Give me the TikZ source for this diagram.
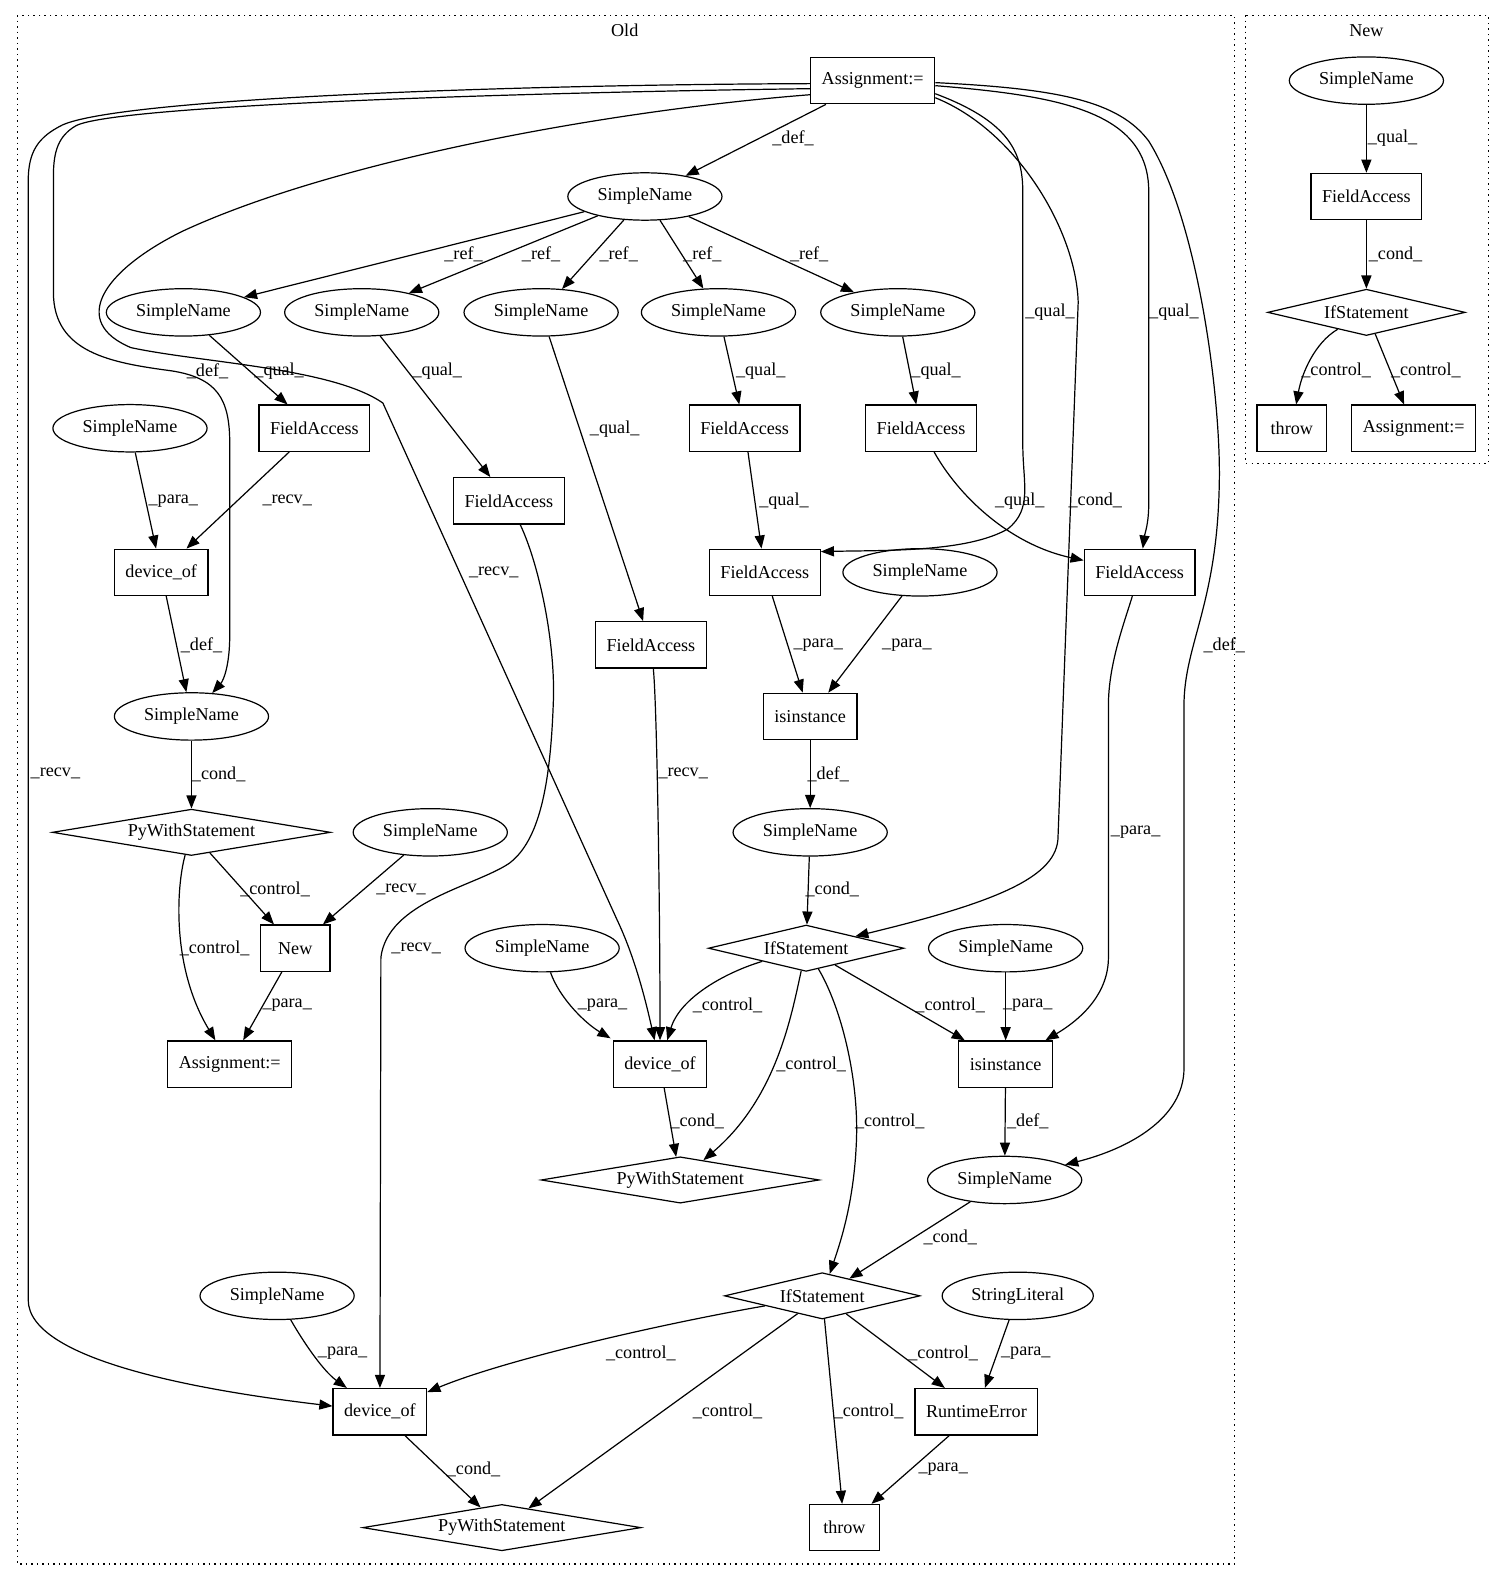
\documentclass[tikz,border=0pt]{standalone}
\usepackage{fontspec}
\setmainfont{Liberation Serif}
\usetikzlibrary{shapes.geometric,arrows.meta}
\begin{document}
\begin{tikzpicture}[x=1pt,y=-1pt,
  every node/.style={font=\fontsize{18}{21}\selectfont},
  box/.style={draw, rectangle, line width=1.2pt, minimum height=46pt, minimum width=69pt, inner xsep=11pt},
  ell/.style={draw, ellipse, line width=1.2pt, minimum width=153pt, minimum height=47pt, inner sep=0pt},
  dia/.style={draw, diamond, line width=1.2pt, aspect=6, inner sep=0pt, minimum height=46pt},
  edge/.style={line width=1.2pt, -{Triangle[length=13pt,width=10pt]}},
  lbl/.style={inner sep=0pt},
  clus/.style={draw, line width=1.2pt, dash pattern=on 1.5pt off 4pt}]
\fill[white] (0,0) rectangle (1493,1568);
\useasboundingbox (0,0) rectangle (1493,1568);
% clusters
\draw[clus] (17,15) rectangle (1225,1552);
\draw[clus] (1236,15) rectangle (1477,460);
\node (Lold) at (620,30) {Old};
\node (Lnew) at (1356,30) {New};
% Old nodes
\node[box] (A0) at (866,80) {Assignment:=};
\node[ell] (SN0) at (640,195) {SimpleName};
\node[ell] (SN1) at (182,310) {SimpleName};
\node[ell] (SN2) at (359,310) {SimpleName};
\node[ell] (SN3) at (537,310) {SimpleName};
\node[ell] (SN4) at (713,310) {SimpleName};
\node[ell] (SN5) at (891,310) {SimpleName};
\node[ell] (SNp1) at (129,425) {SimpleName};
\node[box] (FA1) at (312,425) {FieldAccess};
\node[box] (FA4) at (739,425) {FieldAccess};
\node[box] (FA5) at (914,425) {FieldAccess};
\node[box] (FA2) at (505,497) {FieldAccess};
\node[box] (DO1) at (160,568) {device\_of};
\node[box] (FA4b) at (759,568) {FieldAccess};
\node[ell] (SNi) at (913,568) {SimpleName};
\node[box] (FA5b) at (1131,568) {FieldAccess};
\node[box] (FA3) at (646,640) {FieldAccess};
\node[ell] (SN6) at (190,711) {SimpleName};
\node[box] (ISI1) at (804,711) {isinstance};
\node[dia, minimum width=276pt] (PW1) at (190,826) {PyWithStatement};
\node[ell] (SNr) at (427,826) {SimpleName};
\node[ell] (SN7) at (804,826) {SimpleName};
\node[box] (NEW) at (293,941) {New};
\node[ell] (SNp2) at (538,941) {SimpleName};
\node[dia, minimum width=194pt] (IF1) at (800,941) {IfStatement};
\node[ell] (SNp3) at (998,941) {SimpleName};
\node[box] (AS2) at (228,1056) {Assignment:=};
\node[box] (DO2) at (655,1056) {device\_of};
\node[box] (ISI2) at (998,1056) {isinstance};
\node[dia, minimum width=276pt] (PW2) at (675,1171) {PyWithStatement};
\node[ell] (SN8) at (997,1171) {SimpleName};
\node[ell] (SNp4) at (275,1286) {SimpleName};
\node[dia, minimum width=194pt] (IF2) at (816,1286) {IfStatement};
\node[ell, minimum width=150pt] (SL) at (1010,1286) {StringLiteral};
\node[box] (DO3) at (377,1401) {device\_of};
\node[box] (RE) at (969,1401) {RuntimeError};
\node[dia, minimum width=276pt] (PW3) at (498,1516) {PyWithStatement};
\node[box] (TH) at (838,1516) {throw};
% New nodes
\node[ell] (nSN) at (1356,80) {SimpleName};
\node[box] (nFA) at (1356,195) {FieldAccess};
\node[dia, minimum width=196pt] (nIF) at (1356,310) {IfStatement};
\node[box] (nTH) at (1282,425) {throw};
\node[box] (nAS) at (1403,425) {Assignment:=};

% Old edges
\draw[edge] (A0) -- (SN0);
\draw[edge] (SN0) -- (SN1);
\draw[edge] (SN0) -- (SN2);
\draw[edge] (SN0) -- (SN3);
\draw[edge] (SN0) -- (SN4);
\draw[edge] (SN0) -- (SN5);
\draw[edge] (SN1) -- (FA1);
\draw[edge] (SN2) -- (FA2);
\draw[edge] (SN3) -- (FA3);
\draw[edge] (SN4) -- (FA4);
\draw[edge] (SN5) -- (FA5);
\draw[edge] (SNp1) -- (DO1);
\draw[edge] (FA1) -- (DO1);
\draw[edge] (DO1) -- (SN6);
\draw[edge] (SN6) -- (PW1);
\draw[edge] (PW1) -- (NEW);
\draw[edge] (PW1) .. controls (175,880) and (170,960) .. (AS2);
\draw[edge] (SNr) -- (NEW);
\draw[edge] (NEW) -- (AS2);
\draw[edge] (FA4) -- (FA4b);
\draw[edge] (FA5) .. controls (950,490) and (1000,540) .. (FA5b);
\draw[edge] (FA4b) -- (ISI1);
\draw[edge] (SNi) -- (ISI1);
\draw[edge] (ISI1) -- (SN7);
\draw[edge] (SN7) -- (IF1);
% A0 long curves (left)
\draw[edge] ([yshift=-3pt]A0.west) .. controls (500,84) and (120,98) .. (62,124) .. controls (38,136) and (28,150) .. (28,180) -- (28,1290) .. controls (28,1350) and (200,1380) .. (DO3);
\draw[edge] ([yshift=-8pt]A0.west) .. controls (500,92) and (110,105) .. (75,125) .. controls (58,135) and (53,150) .. (53,175) -- (53,290) .. controls (53,350) and (110,360) .. (170,368) .. controls (215,375) and (228,395) .. (228,440) -- (228,630) .. controls (228,660) and (222,675) .. (SN6);
\draw[edge] ([yshift=-14pt]A0.west) .. controls (600,110) and (330,160) .. (180,230) .. controls (100,270) and (70,320) .. (130,345) .. controls (200,360) and (330,365) .. (380,400) -- (612,912) .. controls (630,950) and (640,990) .. (DO2);
% A0 long curves (right)
\draw[edge] ([yshift=-13pt]A0.east) .. controls (1000,120) and (1015,150) .. (1015,190) -- (1015,440) .. controls (1015,480) and (1025,505) .. (1000,525) .. controls (960,548) and (880,546) .. ([yshift=-3pt]FA4b.north east);
\draw[edge] ([yshift=-17pt]A0.east) .. controls (1010,130) and (1068,230) .. (1070,300) -- (1050,830) .. controls (1050,870) and (990,895) .. (IF1);
\draw[edge] ([yshift=-5pt]A0.east) .. controls (1050,95) and (1140,110) .. (1140,190) -- (1140,500) .. controls (1140,520) and (1136,530) .. (FA5b);
\draw[edge] ([yshift=-2pt]A0.east) .. controls (1050,88) and (1110,100) .. (1140,140) .. controls (1190,220) and (1212,400) .. (1210,480) .. controls (1208,600) and (1175,640) .. (1175,700) -- (1175,1060) .. controls (1175,1110) and (1120,1140) .. (SN8);
% others
\draw[edge] (FA2) .. controls (535,560) and (552,640) .. (549,700) .. controls (546,780) and (535,835) .. (505,857) .. controls (470,880) and (385,895) .. (378,950) -- (DO3);
\draw[edge] (FA3) .. controls (652,700) and (655,900) .. (DO2);
\draw[edge] (IF1) .. controls (720,965) and (675,990) .. (DO2);
\draw[edge] (SNp2) .. controls (555,990) and (580,1015) .. ([xshift=-2pt,yshift=2pt]DO2.north west);
\draw[edge] (IF1) .. controls (785,1010) and (770,1090) .. (PW2);
\draw[edge] (IF1) -- (ISI2);
\draw[edge] (IF1) .. controls (835,1000) and (852,1070) .. (850,1130) .. controls (848,1190) and (835,1230) .. (IF2);
\draw[edge] (SNp3) -- (ISI2);
\draw[edge] (FA5b) .. controls (1115,620) and (1100,660) .. (1100,700) -- (1100,950) .. controls (1100,985) and (1075,1010) .. (ISI2);
\draw[edge] (DO2) -- (PW2);
\draw[edge] (ISI2) -- (SN8);
\draw[edge] (SN8) -- (IF2);
\draw[edge] (IF2) .. controls (650,1315) and (500,1350) .. (DO3);
\draw[edge] (IF2) -- (PW3);
\draw[edge] (IF2) -- (TH);
\draw[edge] (IF2) -- (RE);
\draw[edge] (SL) -- (RE);
\draw[edge] (RE) -- (TH);
\draw[edge] (SNp4) .. controls (300,1330) and (320,1360) .. (DO3);
\draw[edge] (DO3) -- (PW3);
% New edges
\draw[edge] (nSN) -- (nFA);
\draw[edge] (nFA) -- (nIF);
\draw[edge] (nIF) .. controls (1305,340) and (1292,370) .. (nTH);
\draw[edge] (nIF) -- (nAS);

% labels
\node[lbl] (e1) at (787,137) {\_def\_};
\node[lbl] (e2) at (460,252) {\_ref\_};
\node[lbl] (e3) at (537,252) {\_ref\_};
\node[lbl] (e4) at (614,252) {\_ref\_};
\node[lbl] (e5) at (697,252) {\_ref\_};
\node[lbl] (e6) at (803,252) {\_ref\_};
\node[lbl] (e7) at (206,368) {\_def\_};
\node[lbl] (e8) at (277,368) {\_qual\_};
\node[lbl] (e9) at (434,368) {\_qual\_};
\node[lbl] (e10) at (755,368) {\_qual\_};
\node[lbl] (e11) at (929,368) {\_qual\_};
\node[lbl] (e12) at (1042,310) {\_qual\_};
\node[lbl] (e13) at (1165,310) {\_qual\_};
\node[lbl] (e14) at (610,426) {\_qual\_};
\node[lbl] (e15) at (172,497) {\_para\_};
\node[lbl] (e16) at (285,497) {\_recv\_};
\node[lbl] (e17) at (490,568) {\_recv\_};
\node[lbl] (e18) at (778,497) {\_qual\_};
\node[lbl] (e19) at (1012,497) {\_qual\_};
\node[lbl] (e20) at (1087,497) {\_cond\_};
\node[lbl] (e21) at (200,640) {\_def\_};
\node[lbl] (e22) at (812,640) {\_para\_};
\node[lbl] (e23) at (900,640) {\_para\_};
\node[lbl] (e24) at (1215,640) {\_def\_};
\node[lbl] (e25) at (55,768) {\_recv\_};
\node[lbl] (e26) at (217,768) {\_cond\_};
\node[lbl] (e27) at (678,768) {\_recv\_};
\node[lbl] (e28) at (822,768) {\_def\_};
\node[lbl] (e29) at (1127,826) {\_para\_};
\node[lbl] (e30) at (273,883) {\_control\_};
\node[lbl] (e31) at (398,883) {\_recv\_};
\node[lbl] (e32) at (826,883) {\_cond\_};
\node[lbl] (e33) at (213,941) {\_control\_};
\node[lbl] (e34) at (413,941) {\_recv\_};
\node[lbl] (e35) at (285,998) {\_para\_};
\node[lbl] (e36) at (598,998) {\_para\_};
\node[lbl] (e37) at (722,998) {\_control\_};
\node[lbl] (e38) at (943,998) {\_control\_};
\node[lbl] (e39) at (1020,998) {\_para\_};
\node[lbl] (e40) at (805,1056) {\_control\_};
\node[lbl] (e41) at (692,1113) {\_cond\_};
\node[lbl] (e42) at (883,1113) {\_control\_};
\node[lbl] (e43) at (1020,1113) {\_def\_};
\node[lbl] (e44) at (943,1228) {\_cond\_};
\node[lbl] (e45) at (340,1343) {\_para\_};
\node[lbl] (e46) at (636,1343) {\_control\_};
\node[lbl] (e47) at (936,1343) {\_control\_};
\node[lbl] (e48) at (1018,1343) {\_para\_};
\node[lbl] (e49) at (722,1401) {\_control\_};
\node[lbl] (e50) at (862,1401) {\_control\_};
\node[lbl] (e51) at (470,1458) {\_cond\_};
\node[lbl] (e52) at (936,1458) {\_para\_};
\node[lbl] (e53) at (1382,137) {\_qual\_};
\node[lbl] (e54) at (1385,252) {\_cond\_};
\node[lbl] (e55) at (1326,368) {\_control\_};
\node[lbl] (e56) at (1415,368) {\_control\_};
\end{tikzpicture}
\end{document}
